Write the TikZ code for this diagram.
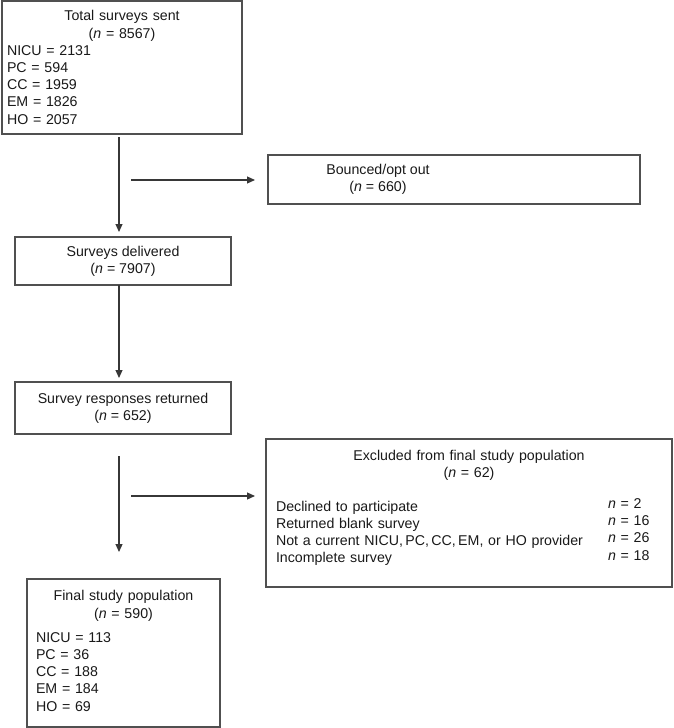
\documentclass[tikz,border=0pt]{standalone}
\usepackage{fontspec}
\setmainfont{Liberation Sans}
\usepackage{xcolor}
\usetikzlibrary{
  positioning,
  arrows.meta
}
\definecolor{LineGray}{RGB}{55,55,55}
\definecolor{BoxGray}{RGB}{80,80,80}
\definecolor{TextBlack}{RGB}{25,25,25}
\newcommand{\ncount}[1]{(\textit{n} = #1)}
\newcommand{\reason}[2]{\makebox[332pt][l]{#1}\raisebox{2.5pt}{\textit{n} = #2}}

\begin{document}
\begin{tikzpicture}[
  x=1pt, y=-1pt,
  font=\fontsize{14.2pt}{17.2pt}\selectfont,
  >=Triangle,
  box/.style={
    draw=BoxGray,
    line width=1.3pt,
    text=TextBlack,
    outer sep=0pt,
    inner xsep=5pt,
    inner ysep=0pt,
  },
  arr/.style={-{Triangle[length=8pt, width=7pt]}, line width=1.2pt, LineGray},
]
  \useasboundingbox (0,0) rectangle (674,728);
  \coordinate (spine) at (119,0);
  \coordinate (b1) at (131,180);
  \coordinate (b2) at (131,496);

  \node[box, anchor=north west, minimum width=240pt, minimum height=133pt,
        text width=230pt, align=left] (total) at (2,1) {%
    {\centering Total surveys sent\\ \ncount{8567}\par}
    NICU = 2131\\
    PC = 594\\
    CC = 1959\\
    EM = 1826\\
    HO = 2057
  };
  \node[box, below right=21pt and 26pt of total.south east,
        minimum width=372pt, minimum height=49pt] (bounced) {%
    \begin{tabular}{@{}c@{}}Bounced/opt out\\ \ncount{660}\end{tabular}\hspace*{152pt}
  };
  \node[box, below right=103pt and 13pt of total.south west,
        minimum width=216pt, minimum height=48pt, align=center] (delivered) {%
    Surveys delivered\\ \ncount{7907}
  };
  \node[box, below right=97pt and 0pt of delivered.south west,
        minimum width=216pt, minimum height=52pt, align=center] (returned) {%
    Survey responses returned\\ \ncount{652}
  };
  \node[box, below right=5pt and 35pt of returned.south east,
        minimum width=406pt, minimum height=148pt, inner xsep=10pt,
        text width=386pt, align=left] (excluded) {%
    {\centering Excluded from final study population\\ \ncount{62}\par}
    \vspace{16pt}
    \reason{Declined to participate}{2}\\
    \reason{Returned blank survey}{16}\\
    \reason{Not a current NICU,\,PC,\,CC,\,EM, or HO provider}{26}\\
    \reason{Incomplete survey}{18}\par
    \vspace{10pt}
  };
  \node[box, below right=145pt and 12pt of returned.south west,
        minimum width=193pt, minimum height=148pt, inner xsep=9pt,
        text width=175pt, align=left] (final) {%
    {\centering Final study population\\ \ncount{590}\par}
    \vspace{7pt}
    NICU = 113\\
    PC = 36\\
    CC = 188\\
    EM = 184\\
    HO = 69\par
    \vspace{4pt}
  };

  % main flow
  \draw[arr, shorten <=3pt, shorten >=5pt] (total.south -| spine) -- (delivered.north -| spine);
  \draw[arr, shorten >=4pt] (delivered.south -| spine) -- (returned.north -| spine);
  \draw[arr, shorten <=22pt, shorten >=27pt] (returned.south -| spine) -- (final.north -| spine);
  % side branches
  \draw[arr, shorten >=13pt] (b1) -- (bounced.west |- b1);
  \draw[arr, shorten >=11pt] (b2) -- (excluded.west |- b2);
\end{tikzpicture}
\end{document}
